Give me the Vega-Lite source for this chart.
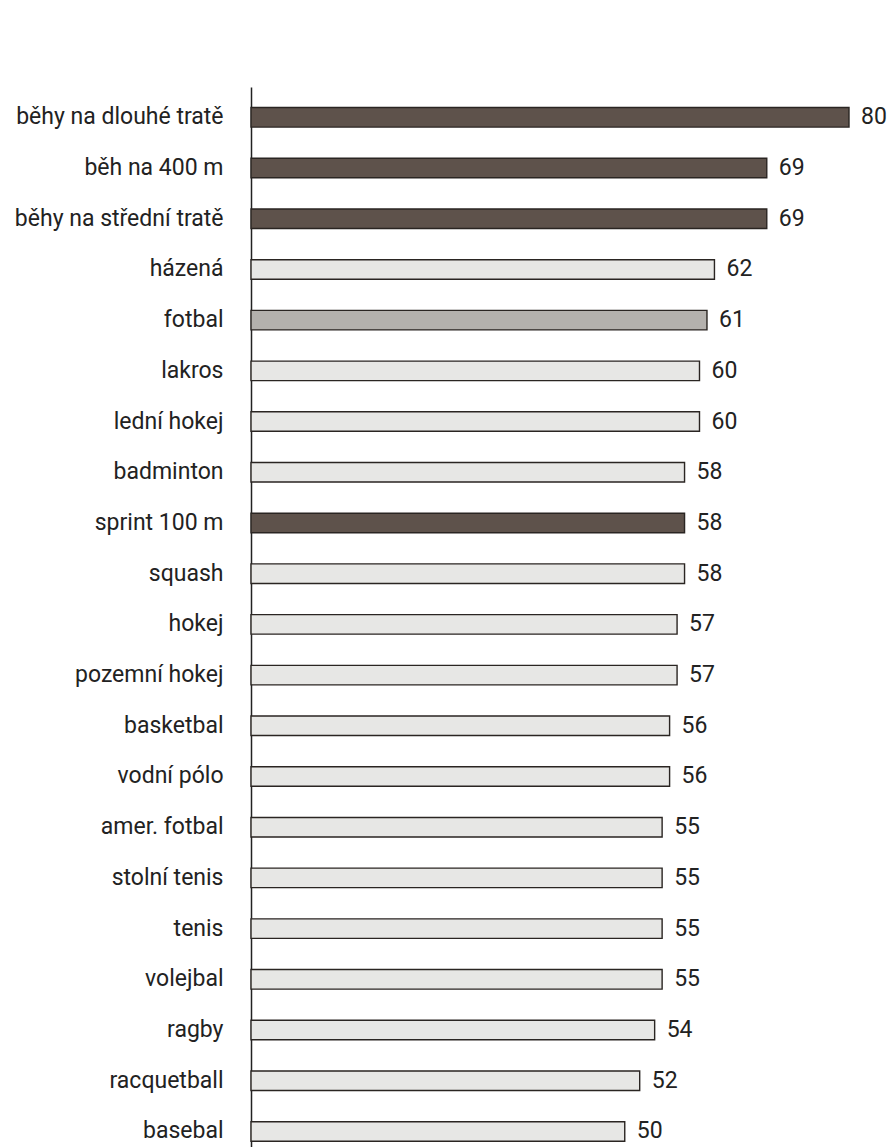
{
  "$schema": "https://vega.github.io/schema/vega-lite/v6.json",
  "width": 598,
  "height": 1060,
  "autosize": {"type": "none"},
  "padding": {"left": 251, "top": 87, "right": 44, "bottom": 0},
  "background": "white",
  "config": {"view": {"stroke": null}, "font": "Roboto"},
  "data": {"values": [
    {"sport": "běhy na dlouhé tratě", "value": 80, "kind": "vytrvalost"},
    {"sport": "běh na 400 m", "value": 69, "kind": "vytrvalost"},
    {"sport": "běhy na střední tratě", "value": 69, "kind": "vytrvalost"},
    {"sport": "házená", "value": 62, "kind": "míčové"},
    {"sport": "fotbal", "value": 61, "kind": "fotbal"},
    {"sport": "lakros", "value": 60, "kind": "míčové"},
    {"sport": "lední hokej", "value": 60, "kind": "míčové"},
    {"sport": "badminton", "value": 58, "kind": "míčové"},
    {"sport": "sprint 100 m", "value": 58, "kind": "vytrvalost"},
    {"sport": "squash", "value": 58, "kind": "míčové"},
    {"sport": "hokej", "value": 57, "kind": "míčové"},
    {"sport": "pozemní hokej", "value": 57, "kind": "míčové"},
    {"sport": "basketbal", "value": 56, "kind": "míčové"},
    {"sport": "vodní pólo", "value": 56, "kind": "míčové"},
    {"sport": "amer. fotbal", "value": 55, "kind": "míčové"},
    {"sport": "stolní tenis", "value": 55, "kind": "míčové"},
    {"sport": "tenis", "value": 55, "kind": "míčové"},
    {"sport": "volejbal", "value": 55, "kind": "míčové"},
    {"sport": "ragby", "value": 54, "kind": "míčové"},
    {"sport": "racquetball", "value": 52, "kind": "míčové"},
    {"sport": "basebal", "value": 50, "kind": "míčové"}
  ]},
  "encoding": {
    "y": {
      "field": "sport", "type": "nominal", "sort": null,
      "scale": {"paddingInner": 0.615, "paddingOuter": 0.26, "align": 0.78},
      "axis": {
        "title": null, "ticks": false, "labelPadding": 28, "labelLimit": 400,
        "labelFontSize": 23, "labelColor": "#222222", "labelFont": "Roboto",
        "domainColor": "#222", "domainWidth": 1.5, "grid": false
      }
    },
    "x": {
      "field": "value", "type": "quantitative",
      "scale": {"domain": [0, 80], "nice": false, "zero": true},
      "axis": null
    }
  },
  "layer": [
    {
      "mark": {"type": "bar", "stroke": "#2a2522", "strokeWidth": 1.4},
      "encoding": {
        "color": {
          "field": "kind", "type": "nominal",
          "scale": {"domain": ["vytrvalost", "fotbal", "míčové"], "range": ["#5e524b", "#b4b1ad", "#e7e7e5"]},
          "legend": null
        }
      }
    },
    {
      "mark": {"type": "text", "align": "left", "baseline": "middle", "dx": 12, "fontSize": 23, "color": "#222222", "font": "Roboto"},
      "encoding": {"text": {"field": "value", "type": "quantitative"}}
    }
  ]
}
